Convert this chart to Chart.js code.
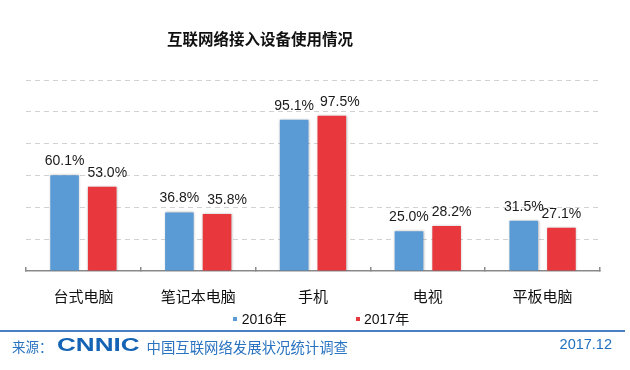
<!DOCTYPE html>
<html><head><meta charset="utf-8">
<script src="https://cdn.jsdelivr.net/npm/chart.js@4.4.1/dist/chart.umd.min.js"></script>
<style>
html,body{margin:0;padding:0;background:#fff;}
#wrap{position:relative;width:630px;height:370px;overflow:hidden;background:#fff;}
#c{position:absolute;left:0;top:0;}
.t{position:absolute;white-space:nowrap;line-height:20px;}
#title{left:167px;top:26.5px;font:bold 15.5px "Noto Sans CJK SC",sans-serif;color:#111;}
.lg{top:308px;font:14px "Liberation Sans","Noto Sans CJK SC",sans-serif;color:#111;}
.sq{position:absolute;width:4px;height:4px;}
#rule{position:absolute;left:0;top:329.5px;width:625px;height:2px;background:#4a7fc4;}
#src{left:12px;top:336px;font:13.5px "Noto Sans CJK SC",sans-serif;color:#2a73c0;}
#logo{left:57px;top:333px;font:bold 18px "Liberation Sans",sans-serif;color:#1463b4;transform:scaleX(1.45);transform-origin:0 50%;line-height:24px;}
#org{left:146.5px;top:336px;font:14.4px "Noto Sans CJK SC",sans-serif;color:#2a73c0;}
#date{right:18px;top:335.5px;font:14.5px "Liberation Sans",sans-serif;color:#1f6fbf;}
</style></head>
<body>
<div id="wrap">
<canvas id="c" width="630" height="370"></canvas>
<div class="t" id="title">互联网络接入设备使用情况</div>
<div id="legend"></div>
<div id="rule"></div>
<div class="t" id="src">来源：</div>
<div class="t" id="logo">CNNIC</div>
<div class="t" id="org">中国互联网络发展状况统计调查</div>
<div class="t" id="date">2017.12</div>
</div>
<script>
const categories = ['台式电脑', '笔记本电脑', '手机', '电视', '平板电脑'];
const seriesNames = ['2016年', '2017年'];
const values2016 = [60.1, 36.8, 95.1, 25.0, 31.5];
const values2017 = [53.0, 35.8, 97.5, 28.2, 27.1];
const seriesColors = ['#5b9bd5', '#e8383d'];
const yTicks = [0, 20, 40, 60, 80, 100, 120];
// small horizontal nudges of the value labels (style only), per series
const labelNudge = [[0, 0, 0, 0, 0], [5, 10, 8, 5, 0]];

// HTML legend built from the series arrays
const legendPos = [{sq: 233.3, tx: 241.7}, {sq: 355.5, tx: 364}];
const lg = document.getElementById('legend');
seriesNames.forEach((n, i) => {
  const s = document.createElement('div');
  s.className = 'sq';
  s.style.left = legendPos[i].sq + 'px';
  s.style.top = '316.5px';
  s.style.background = seriesColors[i];
  lg.appendChild(s);
  const t = document.createElement('div');
  t.className = 't lg';
  t.style.left = legendPos[i].tx + 'px';
  t.textContent = n;
  lg.appendChild(t);
});

const shadowPlugin = {
  id: 'barShadow',
  beforeDatasetsDraw(chart) {
    const ctx = chart.ctx;
    ctx.save();
    ctx.shadowColor = 'rgba(0,0,0,0.28)';
    ctx.shadowBlur = 2.5;
    ctx.shadowOffsetX = 0.5;
    ctx.shadowOffsetY = 0;
  },
  afterDatasetsDraw(chart) {
    const ctx = chart.ctx;
    ctx.restore();
    ctx.save();
    ctx.font = '14px "Liberation Sans", Arial, sans-serif';
    ctx.fillStyle = '#1a1a1a';
    ctx.textAlign = 'center';
    ctx.textBaseline = 'alphabetic';
    chart.data.datasets.forEach((ds, di) => {
      const meta = chart.getDatasetMeta(di);
      meta.data.forEach((el, i) => {
        ctx.fillText(ds.data[i].toFixed(1) + '%', el.x + labelNudge[di][i], el.y - 10);
      });
    });
    ctx.restore();
  }
};

new Chart(document.getElementById('c'), {
  type: 'bar',
  data: {
    labels: categories,
    datasets: [
      {label: seriesNames[0], data: values2016, backgroundColor: seriesColors[0], borderWidth: 0},
      {label: seriesNames[1], data: values2017, backgroundColor: seriesColors[1], borderWidth: 0}
    ]
  },
  options: {
    responsive: false,
    animation: false,
    devicePixelRatio: 1,
    layout: {padding: {top: 80, left: 26, right: 30, bottom: 45}},
    categoryPercentage: 0.656,
    barPercentage: 0.76,
    plugins: {legend: {display: false}, tooltip: {enabled: false}, title: {display: false}},
    scales: {
      x: {
        grid: {display: true, drawOnChartArea: false, drawTicks: true, tickLength: -4, color: '#8a8a8a', lineWidth: 1.5, offset: true},
        border: {display: true, color: '#8a8a8a', width: 1.5},
        ticks: {color: '#111', padding: 20, font: {family: '"Noto Sans CJK SC", sans-serif', size: 15}, maxRotation: 0}
      },
      y: {
        min: yTicks[0], max: yTicks[yTicks.length - 1],
        afterBuildTicks: (axis) => { axis.ticks = yTicks.map(v => ({value: v})); },
        ticks: {display: false},
        border: {display: false, dash: [5, 4]},
        grid: {drawTicks: false, color: (c) => c.tick && c.tick.value === 0 ? 'rgba(0,0,0,0)' : '#d2d2d2', lineWidth: 1}
      }
    }
  },
  plugins: [shadowPlugin]
});
</script>
</body></html>
